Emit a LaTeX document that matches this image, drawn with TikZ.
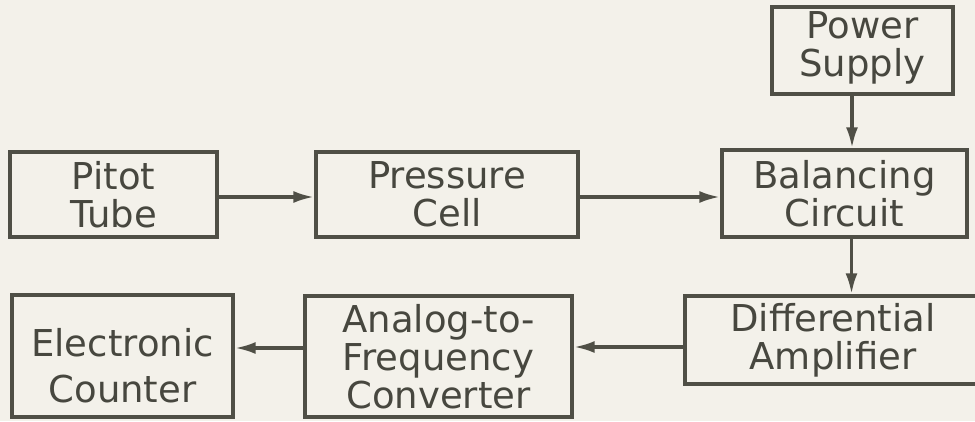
\documentclass[tikz,border=0pt]{standalone}
\usepackage{fontspec}
\setmainfont{DejaVu Sans}
\usetikzlibrary{arrows.meta}
\definecolor{paper}{HTML}{F3F1EA}
\definecolor{ink}{HTML}{4F4F46}
\definecolor{txt}{HTML}{47473F}
\tikzset{
  blk/.style={draw=ink, line width=3.4pt, inner sep=0pt, align=center,
    text=txt, font=\fontsize{37}{38}\selectfont},
  lbl/.style={inner sep=0pt, align=center, text=txt},
  arr/.style={draw=ink, line width=3.4pt, -{Latex[length=21pt,width=12pt]}}
}
\begin{document}
\begin{tikzpicture}[x=1pt,y=-1pt]
\fill[paper] (0,0) rectangle (975,421);
\clip (0,0) rectangle (975,421);
\node[blk, minimum width=207pt, minimum height=85pt] (pitot) at (113.5,194.5) {Pitot\\Tube};
\node[blk, minimum width=262pt, minimum height=85pt] (press) at (447,194.5) {Pressure\\Cell};
\node[blk, minimum width=245pt, minimum height=87pt] (bal) at (844.5,193.5) {Balancing\\Circuit};
\node[blk, minimum width=181pt, minimum height=87pt,
  label={[lbl, yshift=3pt, font=\fontsize{37}{38}\selectfont]center:Power\\Supply}] (power) at (862.5,50.5) {};
\node[blk, minimum width=296pt, minimum height=88pt] (diff) at (833,340) {Differential\\Amplifier};
\node[blk, minimum width=267pt, minimum height=121pt, font=\fontsize{37}{38}\selectfont] (afc) at (438.5,356.5) {Analog-to-\\Frequency\\Converter};
\node[blk, minimum width=221pt, minimum height=122pt,
  label={[lbl, yshift=-10pt, font=\fontsize{37}{46}\selectfont]center:Electronic\\Counter}] (count) at (122.5,356) {};
\draw[arr] ([yshift=-2.5pt]pitot.east) -- ([yshift=-2.5pt]pitot.east -| press.west);
\draw[arr] ([yshift=-2.5pt]press.east) -- ([yshift=-2.5pt]press.east -| bal.west);
\draw[arr] ([xshift=-10.5pt]power.south) -- ([xshift=-10.5pt]power.south |- bal.north);
\draw[arr] ([xshift=7pt]bal.south) -- ([xshift=7pt]bal.south |- diff.north);
\draw[arr] ([yshift=-7pt]diff.west) -- ([yshift=-7pt]diff.west -| afc.east);
\draw[arr] ([yshift=8.5pt]afc.west) -- ([yshift=8.5pt]afc.west -| count.east);
\end{tikzpicture}
\end{document}
